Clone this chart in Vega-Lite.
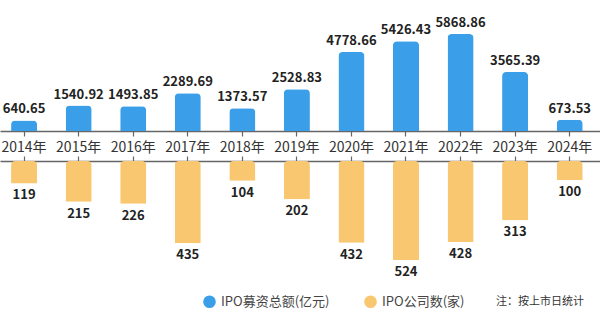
{
  "$schema": "https://vega.github.io/schema/vega-lite/v6.json",
  "padding": 0,
  "background": "white",
  "config": {"view": {"stroke": null}, "font": "Noto Sans CJK SC"},
  "data": {"values": [
    {"year": "2014年", "amount": 640.65, "count": 119},
    {"year": "2015年", "amount": 1540.92, "count": 215},
    {"year": "2016年", "amount": 1493.85, "count": 226},
    {"year": "2017年", "amount": 2289.69, "count": 435},
    {"year": "2018年", "amount": 1373.57, "count": 104},
    {"year": "2019年", "amount": 2528.83, "count": 202},
    {"year": "2020年", "amount": 4778.66, "count": 432},
    {"year": "2021年", "amount": 5426.43, "count": 524},
    {"year": "2022年", "amount": 5868.86, "count": 428},
    {"year": "2023年", "amount": 3565.39, "count": 313},
    {"year": "2024年", "amount": 673.53, "count": 100}
  ]},
  "bounds": "flush",
  "spacing": 30,
  "resolve": {"scale": {"color": "shared", "x": "shared"}, "legend": {"color": "shared"}},
  "vconcat": [
    {
      "width": 600,
      "height": 131,
      "encoding": {
        "x": {"field": "year", "type": "nominal", "sort": null,
          "scale": {"paddingInner": 0.523, "paddingOuter": 0.26, "align": 0.39},
          "axis": {"orient": "bottom", "title": null, "labelAngle": 0, "labelFontSize": 14,
            "labelColor": "#333", "labelPadding": 4, "tickSize": 5, "tickColor": "#666",
            "domainColor": "#666", "domainWidth": 1.3, "tickWidth": 1.2, "labelFont": "Noto Sans CJK SC"}},
        "y": {"field": "amount", "type": "quantitative", "scale": {"domain": [0, 7925]}, "axis": null}
      },
      "layer": [
        {"mark": {"type": "bar", "cornerRadiusEnd": 4},
         "encoding": {"color": {"datum": "IPO募资总额(亿元)", "type": "nominal",
           "scale": {"domain": ["IPO募资总额(亿元)", "IPO公司数(家)"], "range": ["#3A9FE8", "#F9C76F"]},
           "legend": {"orient": "none", "legendX": 203, "legendY": 295, "direction": "horizontal",
             "symbolType": "circle", "symbolSize": 160, "symbolStrokeWidth": 0, "symbolOpacity": 1,
             "labelFontSize": 13, "labelColor": "#444", "labelOffset": 5, "columnPadding": 34,
             "title": "注：按上市日统计", "titleOrient": "right", "titleFontSize": 11,
             "titleFontWeight": "normal", "titleColor": "#333", "titlePadding": 32,
             "titleBaseline": "middle", "titleAnchor": "middle"}}}},
        {"mark": {"type": "text", "baseline": "bottom", "dy": -4, "fontSize": 13, "fontWeight": "bold", "color": "#222"},
         "encoding": {"text": {"field": "amount", "type": "quantitative", "format": ".2f"}}}
      ]
    },
    {
      "width": 600,
      "height": 110,
      "encoding": {
        "x": {"field": "year", "type": "nominal", "sort": null,
          "scale": {"paddingInner": 0.523, "paddingOuter": 0.26, "align": 0.39},
          "axis": {"orient": "top", "title": null, "labels": false, "tickSize": 5, "tickColor": "#666",
            "domainColor": "#666", "domainWidth": 1.3, "tickWidth": 1.2}},
        "y": {"field": "count", "type": "quantitative", "scale": {"domain": [0, 582], "reverse": true}, "axis": null}
      },
      "layer": [
        {"mark": {"type": "bar", "cornerRadiusEnd": 4},
         "encoding": {"color": {"datum": "IPO公司数(家)", "type": "nominal"}}},
        {"mark": {"type": "text", "baseline": "top", "dy": 6, "fontSize": 13, "fontWeight": "bold", "color": "#222"},
         "encoding": {"text": {"field": "count", "type": "quantitative"}}}
      ]
    }
  ]
}
